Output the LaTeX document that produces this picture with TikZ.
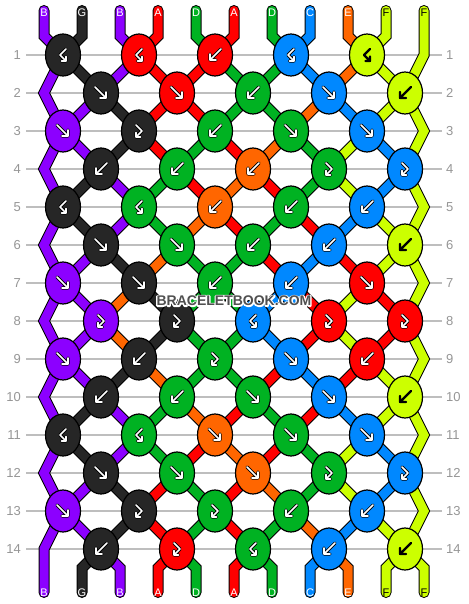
\documentclass[tikz,border=0pt]{standalone}
\usepackage{fontspec}
\setmainfont{Liberation Sans}
\usetikzlibrary{shapes.geometric}
\pgfdeclarelayer{back}
\pgfdeclarelayer{strings}
\pgfsetlayers{back,strings,main}
\definecolor{cB}{RGB}{140,0,255}
\definecolor{cG}{RGB}{38,38,38}
\definecolor{cA}{RGB}{255,0,0}
\definecolor{cD}{RGB}{0,178,34}
\definecolor{cC}{RGB}{0,136,255}
\definecolor{cE}{RGB}{255,102,0}
\definecolor{cF}{RGB}{204,255,0}
\definecolor{linegray}{RGB}{190,190,190}
\definecolor{labgray}{RGB}{150,150,150}
\definecolor{wmgray}{RGB}{80,80,80}
\def\gcolB{white}\def\gcolG{white}\def\gcolA{white}\def\gcolD{white}
\def\gcolC{white}\def\gcolE{white}\def\gcolF{black}
\def\gwB{3.2pt}\def\gwG{3.2pt}\def\gwA{3.2pt}\def\gwD{3.2pt}
\def\gwC{3.2pt}\def\gwE{3.2pt}\def\gwF{2.3pt}
\newcommand\glyphF[1]{%
 \draw[gout,shift={(#1)}] (-6,-6) -- (5,5) (-1,5) -- (5,5) -- (5,-1);
 \draw[gin,shift={(#1)}] (-6,-6) -- (5,5) (-1,5) -- (5,5) -- (5,-1);}
\newcommand\glyphB[1]{%
 \draw[gout,shift={(#1)}] (6,-6) -- (-5,5) (1,5) -- (-5,5) -- (-5,-1);
 \draw[gin,shift={(#1)}] (6,-6) -- (-5,5) (1,5) -- (-5,5) -- (-5,-1);}
\newcommand\glyphFB[1]{%
 \draw[gout,shift={(#1)}] (-3,-6) -- (3,0) -- (-3,6) (1.5,6) -- (-3,6) -- (-3,1.5);
 \draw[gin,shift={(#1)}] (-3,-6) -- (3,0) -- (-3,6) (1.5,6) -- (-3,6) -- (-3,1.5);}
\newcommand\glyphBF[1]{%
 \draw[gout,shift={(#1)}] (3,-6) -- (-3,0) -- (3,6) (-1.5,6) -- (3,6) -- (3,1.5);
 \draw[gin,shift={(#1)}] (3,-6) -- (-3,0) -- (3,6) (-1.5,6) -- (3,6) -- (3,1.5);}
\begin{document}
\begin{tikzpicture}[x=1pt,y=-1pt,
  str/.style={draw=black,line width=1pt,double=#1,double distance=9pt,line join=miter},
  knot/.style={ellipse,draw=black,line width=1.2pt,minimum width=35pt,minimum height=42pt,inner sep=0pt},
  gout/.style={draw=black,line width=\goutw,line cap=round,line join=round},
  gin/.style={draw=\gincol,line width=1.7pt,line cap=round,line join=round},
  rowline/.style={draw=linegray,line width=1.2pt},
  rowlab/.style={font=\fontsize{13}{13}\selectfont,text=labgray,inner sep=0pt},
  strlab/.style={font=\fontsize{11}{11}\selectfont,inner sep=0pt},
  wm/.style={font=\bfseries\fontsize{14}{14}\selectfont,inner sep=0pt}]
\useasboundingbox (0,0) rectangle (468,604);
% background, row guide lines and numbers
\begin{pgfonlayer}{back}
\fill[white] (0,0) rectangle (468,604);
\foreach \r in {1,...,14}{
  \pgfmathsetmacro\yy{55+38*(\r-1)}
  \draw[rowline] (26,\yy) -- (442,\yy);
  \node[rowlab,anchor=east] (ll-\r) at (21,\yy) {\r};
  \node[rowlab,anchor=west] (rl-\r) at (446,\yy) {\r};
}
\end{pgfonlayer}
% knots
\foreach \r/\row in {
 1/{G/BF,A/BF,A/B,C/BF,F/BF},
 2/{G/F,A/F,D/B,C/F,F/B},
 3/{B/F,G/FB,D/B,D/F,C/F},
 4/{G/B,D/B,E/B,D/FB,C/FB},
 5/{G/BF,D/BF,E/B,D/B,C/B},
 6/{G/F,D/F,D/B,C/B,F/B},
 7/{B/F,G/F,D/B,C/B,A/F},
 8/{B/FB,G/FB,C/BF,A/FB,A/FB},
 9/{B/F,G/B,D/FB,C/F,A/B},
 10/{G/B,D/B,D/F,C/F,F/B},
 11/{G/BF,D/BF,E/F,D/F,C/F},
 12/{G/F,D/F,E/F,D/FB,C/FB},
 13/{B/F,G/FB,D/FB,D/B,C/B},
 14/{G/B,A/FB,D/BF,C/B,F/B}}{
  \pgfmathsetmacro\yy{55+38*(\r-1)}
  \foreach \c/\t [count=\k from 0] in \row {
    \pgfmathsetmacro\xx{ifthenelse(mod(\r,2)==1,63,101)+76*\k}
    \node[knot,fill=c\c] (k-\r-\k) at (\xx,\yy) {};
    \edef\gincol{\csname gcol\c\endcsname}
    \edef\goutw{\csname gw\c\endcsname}
    \csname glyph\t\endcsname{k-\r-\k.center}
  }
}
% strings
\begin{pgfonlayer}{strings}
\foreach \r/\cols in {
 1/{G,B,A,A,D,D,C,E,F},
 2/{B,G,A,A,D,D,E,C,F},
 3/{B,G,A,D,A,E,D,F,C},
 4/{G,B,D,A,E,A,D,F,C},
 5/{G,B,D,E,A,D,A,C,F},
 6/{B,G,E,D,D,A,C,A,F},
 7/{B,E,G,D,D,C,A,F,A},
 8/{B,E,G,D,D,C,A,F,A},
 9/{B,G,E,D,D,A,C,A,F},
 10/{G,B,D,E,A,D,A,C,F},
 11/{G,B,D,A,E,A,D,F,C},
 12/{B,G,A,D,A,E,D,F,C},
 13/{B,G,A,D,A,D,E,C,F}}{
  \pgfmathtruncatemacro\rn{\r+1}
  \foreach \c [count=\i from 1] in \cols {
    \pgfmathtruncatemacro\ka{ifthenelse(mod(\r,2)==1,floor(\i/2),floor((\i-1)/2))}
    \pgfmathtruncatemacro\kb{ifthenelse(mod(\rn,2)==1,floor(\i/2),floor((\i-1)/2))}
    \draw[str=c\c] (k-\r-\ka.center) -- (k-\rn-\kb.center);
  }
}
% top strings
\foreach \c [count=\i from 0] in {B,G,B,A,D,A,D,C,E,F}{
  \pgfmathsetmacro\x{44+38*\i}
  \pgfmathtruncatemacro\kk{floor(\i/2)}
  \coordinate (t-\i) at (\x,10.5);
  \coordinate (tb-\i) at (\x,36);
  \draw[str=c\c,line cap=round] (t-\i) -- (tb-\i) -- (k-1-\kk.center);
}
% bottom strings
\foreach \c [count=\i from 1] in {G,B,A,D,A,D,C,E,F,F}{
  \pgfmathsetmacro\x{44+38*\i}
  \pgfmathtruncatemacro\kk{floor((\i-1)/2)}
  \coordinate (bb-\i) at (\x,568);
  \coordinate (b-\i) at (\x,592.5);
  \draw[str=c\c,line cap=round] (k-14-\kk.center) -- (bb-\i) -- (b-\i);
}
% left edge
\foreach \r in {2,4,...,12}{
  \pgfmathsetmacro\yy{55+38*(\r-1)}
  \pgfmathtruncatemacro\ra{\r-1}
  \pgfmathtruncatemacro\rb{\r+1}
  \coordinate (L-\r) at (44,\yy);
  \draw[str=cB] (k-\ra-0.center) -- (L-\r) -- (k-\rb-0.center);
}
\coordinate (L-14) at (44,549);
\coordinate (b-0) at (44,592.5);
\draw[str=cB,line cap=round] (k-13-0.center) -- (L-14) -- (b-0);
% right edge
\coordinate (t-10) at (424,10.5);
\coordinate (R-1) at (424,55);
\draw[str=cF,line cap=round] (t-10) -- (R-1) -- (k-2-4.center);
\foreach \r in {3,5,...,13}{
  \pgfmathsetmacro\yy{55+38*(\r-1)}
  \pgfmathtruncatemacro\ra{\r-1}
  \pgfmathtruncatemacro\rb{\r+1}
  \coordinate (R-\r) at (424,\yy);
  \draw[str=cF] (k-\ra-4.center) -- (R-\r) -- (k-\rb-4.center);
}
\end{pgfonlayer}
% string letters
\foreach \c/\tc [count=\i from 0] in {B/white,G/white,B/white,A/white,D/white,A/white,D/white,C/white,E/white,F/black,F/black}{
  \pgfmathsetmacro\x{44+38*\i}
  \node[strlab,text=\tc] (lt-\i) at (\x,13) {\c};
  \node[strlab,text=\tc] (lb-\i) at (\x,592.5) {\c};
}
% watermark: white outlined gray text
\node[wm] (wm) at (234,301) {\rlap{\special{pdf:code 1 Tr 2.6 w 1 j}\textcolor{white}{BRACELETBOOK.COM}\special{pdf:code 0 Tr 1 w}}\textcolor{wmgray}{BRACELETBOOK.COM}};
\end{tikzpicture}
\end{document}
